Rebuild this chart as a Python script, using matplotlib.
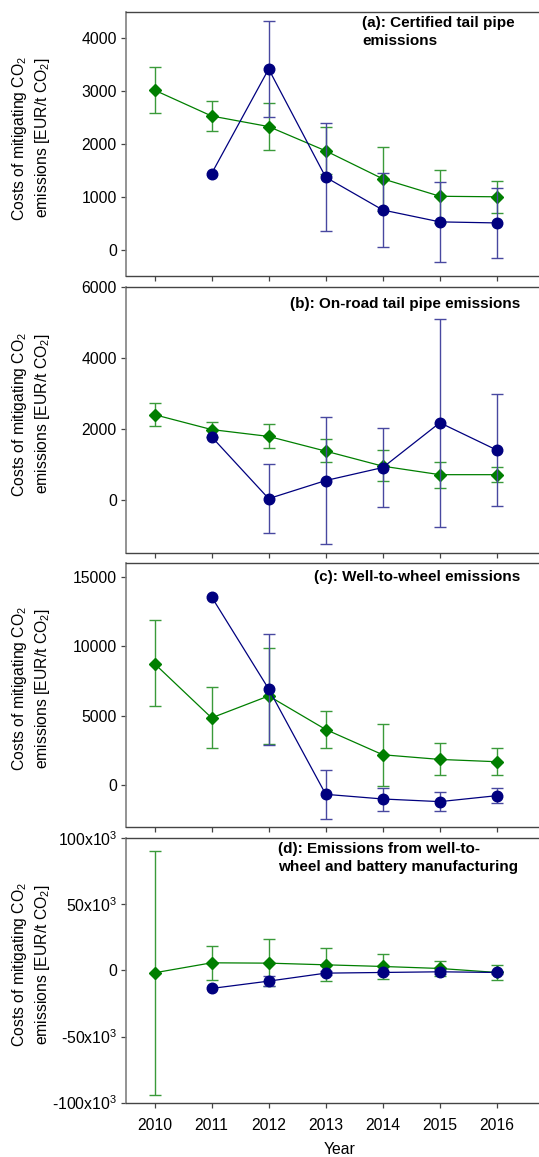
import numpy as np
import matplotlib
matplotlib.use("Agg")
import matplotlib.pyplot as plt

plt.rcParams['font.family'] = ['Liberation Sans', 'DejaVu Sans']
plt.rcParams['mathtext.fontset'] = 'custom'
plt.rcParams['mathtext.rm'] = 'Liberation Sans'
plt.rcParams['mathtext.it'] = 'Liberation Sans:italic'

nan = np.nan
years = [2010, 2011, 2012, 2013, 2014, 2015, 2016]

# Panel (a): certified tail pipe emissions
a_green = [3020, 2530, 2330, 1870, 1340, 1010, 1000]
a_green_lo = [2590, 2250, 1890, 1430, 740, 500, 690]
a_green_hi = [3450, 2820, 2770, 2320, 1940, 1510, 1300]
a_blue = [nan, 1440, 3420, 1370, 750, 525, 505]
a_blue_lo = [nan, nan, 2515, 358, 44, -226, -158]
a_blue_hi = [nan, nan, 4325, 2389, 1453, 1276, 1170]

# Panel (b): on-road tail pipe emissions
b_green = [2400, 1980, 1786, 1370, 945, 705, 705]
b_green_lo = [2069, 1780, 1445, 1049, 529, 340, 491]
b_green_hi = [2730, 2201, 2126, 1700, 1389, 1068, 916]
b_blue = [nan, 1776, 28, 539, 907, 2173, 1398]
b_blue_lo = [nan, nan, -935, -1257, -198, -765, -180]
b_blue_hi = [nan, nan, 1001, 2334, 2012, 5111, 2976]

# Panel (c): well-to-wheel emissions
c_green = [8732, 4833, 6411, 3995, 2177, 1842, 1675]
c_green_lo = [5694, 2632, 2943, 2679, -48, 694, 694]
c_green_hi = [11842, 7057, 9856, 5335, 4426, 3014, 2679]
c_blue = [nan, 13541, 6914, -670, -1005, -1196, -766]
c_blue_lo = [nan, nan, 2900, -2464, -1842, -1890, -1268]
c_blue_hi = [nan, nan, 10885, 1100, -191, -478, -215]

# Panel (d): well-to-wheel and battery manufacturing
d_green = [-1763, 5793, 5542, 4282, 3023, 1511, -1511]
d_green_lo = [-94207, -7557, -12090, -8060, -6297, -4030, -7053]
d_green_hi = [90176, 18892, 23678, 16625, 12594, 7305, 4282]
d_blue = [nan, -13602, -8060, -2015, -1511, -1008, -1511]
d_blue_lo = [nan, nan, -11587, -3500, -2800, -2300, -2800]
d_blue_hi = [nan, nan, -4534, -500, -300, 300, -300]

titles = ["(a): Certified tail pipe\nemissions",
          "(b): On-road tail pipe emissions",
          "(c): Well-to-wheel emissions",
          "(d): Emissions from well-to-\nwheel and battery manufacturing"]

a_ticks = [0, 1000, 2000, 3000, 4000]
b_ticks = [0, 2000, 4000, 6000]
c_ticks = [0, 5000, 10000, 15000]
d_ticks = [-100000, -50000, 0, 50000, 100000]
d_ticklabels = ["-100x10$^3$", "-50x10$^3$", "0", "50x10$^3$", "100x10$^3$"]

ylabel = "Costs of mitigating CO$_2$\nemissions [EUR/t CO$_2$]"

W, H = 539, 1157
fig = plt.figure(figsize=(W / 100, H / 100), dpi=100)

GREEN = '#007f00'
GREEN_E = '#3a9a3a'
BLUE = '#00007f'
BLUE_E = '#4848a0'
FS = 11.3

panels = [
    (12, 276, (-500, 4500), a_ticks, None, a_green, a_green_lo, a_green_hi, a_blue, a_blue_lo, a_blue_hi),
    (287.3, 552.7, (-1500, 6000), b_ticks, None, b_green, b_green_lo, b_green_hi, b_blue, b_blue_lo, b_blue_hi),
    (562.7, 826.7, (-3000, 16000), c_ticks, None, c_green, c_green_lo, c_green_hi, c_blue, c_blue_lo, c_blue_hi),
    (838.3, 1103.3, (-100500, 100000), d_ticks, d_ticklabels, d_green, d_green_lo, d_green_hi, d_blue, d_blue_lo, d_blue_hi),
]

axes = []
for i, (top, bot, ylim, yt, ytl, g, glo, ghi, b, blo, bhi) in enumerate(panels):
    ax = fig.add_axes([126 / W, 1 - bot / H, (554 - 126) / W, (bot - top) / H])
    axes.append(ax)
    x = np.array(years, dtype=float)
    g = np.array(g, float); glo = np.array(glo, float); ghi = np.array(ghi, float)
    b = np.array(b, float); blo = np.array(blo, float); bhi = np.array(bhi, float)

    ax.errorbar(x, g, yerr=[g - glo, ghi - g], fmt='none', ecolor=GREEN_E,
                elinewidth=1.0, capsize=4.5, capthick=1.0, zorder=2)
    ax.plot(x, g, '-', color=GREEN, lw=0.9, zorder=3)
    ax.plot(x, g, 'D', color=GREEN, ms=6.3, mec=GREEN, zorder=4)

    ax.errorbar(x, b, yerr=[b - blo, bhi - b], fmt='none', ecolor=BLUE_E,
                elinewidth=1.0, capsize=4.5, capthick=1.0, zorder=5)
    ax.plot(x, b, '-', color=BLUE, lw=0.9, zorder=6)
    ax.plot(x, b, 'o', color=BLUE, ms=7.6, mec=BLUE, zorder=7)

    ax.set_xlim(2009.5, 2017.0)
    ax.set_ylim(*ylim)
    ax.set_yticks(yt)
    if ytl is not None:
        ax.set_yticklabels(ytl)
    else:
        ax.set_yticklabels([str(v) for v in yt])
    ax.set_xticks(years)
    if i == 3:
        ax.set_xticklabels([str(y) for y in years])
        ax.set_xlabel("Year", fontsize=FS, labelpad=6.5)
    else:
        ax.set_xticklabels([])
    ax.tick_params(axis='both', direction='out', length=3.5, width=0.9,
                   color='#444444', labelsize=FS, pad=3)
    ax.tick_params(axis='x', pad=7)
    for side in ['top', 'bottom', 'right']:
        ax.spines[side].set_color('#444444')
        ax.spines[side].set_linewidth(1.0)
    ax.spines['left'].set_color('#808080')
    ax.spines['left'].set_linewidth(1.2)

    fig.text(31 / W, 1 - ((top + bot) / 2 - 6) / H, ylabel, rotation=90,
             ha='center', va='center', fontsize=FS, linespacing=1.35,
             multialignment='center')

# Panel annotations
TFS = 11
fig.text(362 / W, 1 - 16 / H, titles[0], ha='left', va='top', fontsize=TFS,
         fontweight='bold', linespacing=1.4)
fig.text(520 / W, 1 - 304 / H, titles[1], ha='right', va='center', fontsize=TFS,
         fontweight='bold')
fig.text(520 / W, 1 - 577 / H, titles[2], ha='right', va='center', fontsize=TFS,
         fontweight='bold')
fig.text(278 / W, 1 - 842 / H, titles[3], ha='left', va='top', fontsize=TFS,
         fontweight='bold', linespacing=1.4)

fig.savefig("out.png", dpi=100)
